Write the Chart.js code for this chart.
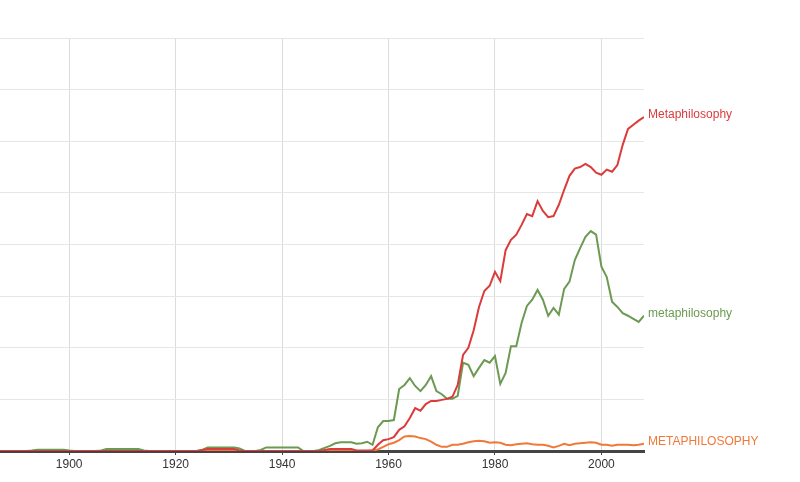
<!DOCTYPE html>
<html>
<head>
<meta charset="utf-8">
<title>metaphilosophy</title>
<script src="https://cdn.jsdelivr.net/npm/chart.js@4/dist/chart.umd.min.js"></script>
<style>
  html, body { margin: 0; padding: 0; background: #fff; }
  #wrap { width: 800px; height: 482px; position: relative; }
</style>
</head>
<body>
<div id="wrap"><canvas id="chart"></canvas></div>
<script>
// years on the x axis
const years = [
  1887, 1888, 1889, 1890, 1891, 1892, 1893, 1894, 1895, 1896,
  1897, 1898, 1899, 1900, 1901, 1902, 1903, 1904, 1905, 1906,
  1907, 1908, 1909, 1910, 1911, 1912, 1913, 1914, 1915, 1916,
  1917, 1918, 1919, 1920, 1921, 1922, 1923, 1924, 1925, 1926,
  1927, 1928, 1929, 1930, 1931, 1932, 1933, 1934, 1935, 1936,
  1937, 1938, 1939, 1940, 1941, 1942, 1943, 1944, 1945, 1946,
  1947, 1948, 1949, 1950, 1951, 1952, 1953, 1954, 1955, 1956,
  1957, 1958, 1959, 1960, 1961, 1962, 1963, 1964, 1965, 1966,
  1967, 1968, 1969, 1970, 1971, 1972, 1973, 1974, 1975, 1976,
  1977, 1978, 1979, 1980, 1981, 1982, 1983, 1984, 1985, 1986,
  1987, 1988, 1989, 1990, 1991, 1992, 1993, 1994, 1995, 1996,
  1997, 1998, 1999, 2000, 2001, 2002, 2003, 2004, 2005, 2006,
  2007, 2008
];
const tickYears = [1900, 1920, 1940, 1960, 1980, 2000];

// "Metaphilosophy"
const capitalised = [
  0, 0, 0, 0, 0, 0, 0, 0, 0, 0,
  0, 0, 0, 0, 0, 0, 0, 0, 0, 0,
  0, 0, 0, 0, 0, 0, 0, 0, 0, 0,
  0, 0, 0, 0, 0, 0, 0, 0, 0.02, 0.04,
  0.04, 0.04, 0.04, 0.04, 0.04, 0.01, 0, 0, 0, 0,
  0, 0, 0, 0, 0, 0, 0, 0, 0, 0,
  0, 0.02, 0.04, 0.04, 0.04, 0.04, 0.04, 0.01, 0.01, 0.01,
  0.01, 0.12, 0.21, 0.23, 0.27, 0.41, 0.48, 0.64, 0.83, 0.78,
  0.91, 0.97, 0.97, 0.99, 1.01, 1.05, 1.28, 1.86, 2.00, 2.34,
  2.79, 3.10, 3.20, 3.47, 3.29, 3.89, 4.09, 4.19, 4.38, 4.59,
  4.55, 4.84, 4.65, 4.53, 4.55, 4.77, 5.06, 5.33, 5.47, 5.50,
  5.56, 5.50, 5.39, 5.35, 5.45, 5.41, 5.54, 5.93, 6.24, 6.32,
  6.40, 6.47
];

// "metaphilosophy"
const lowercase = [
  0, 0, 0, 0, 0, 0, 0.01, 0.025, 0.025, 0.025,
  0.025, 0.025, 0.025, 0.01, 0, 0, 0, 0, 0, 0.01,
  0.04, 0.04, 0.04, 0.04, 0.04, 0.04, 0.04, 0.01, 0, 0,
  0, 0, 0, 0, 0, 0, 0, 0, 0.02, 0.07,
  0.07, 0.07, 0.07, 0.07, 0.07, 0.05, 0, 0, 0, 0.02,
  0.07, 0.07, 0.07, 0.07, 0.07, 0.07, 0.07, 0, 0, 0,
  0.02, 0.06, 0.10, 0.15, 0.17, 0.17, 0.17, 0.14, 0.15, 0.18,
  0.12, 0.46, 0.58, 0.58, 0.60, 1.20, 1.28, 1.41, 1.26, 1.16,
  1.28, 1.45, 1.16, 1.10, 1.01, 1.01, 1.07, 1.71, 1.67, 1.45,
  1.61, 1.76, 1.71, 1.84, 1.30, 1.51, 2.03, 2.03, 2.48, 2.81,
  2.93, 3.12, 2.93, 2.62, 2.77, 2.64, 3.14, 3.28, 3.70, 3.93,
  4.15, 4.26, 4.19, 3.57, 3.37, 2.89, 2.79, 2.67, 2.62, 2.56,
  2.50, 2.62
];

// "METAPHILOSOPHY"
const uppercase = [
  0, 0, 0, 0, 0, 0, 0, 0, 0, 0,
  0, 0, 0, 0, 0, 0, 0, 0, 0, 0,
  0, 0, 0, 0, 0, 0, 0, 0, 0, 0,
  0, 0, 0, 0, 0, 0, 0, 0, 0, 0,
  0, 0, 0, 0, 0, 0, 0, 0, 0, 0,
  0, 0, 0, 0, 0, 0, 0, 0, 0, 0,
  0, 0, 0, 0, 0, 0, 0, 0, 0, 0,
  0.01, 0.03, 0.08, 0.13, 0.16, 0.21, 0.28, 0.29, 0.28, 0.25,
  0.23, 0.18, 0.12, 0.08, 0.08, 0.12, 0.12, 0.14, 0.17, 0.19,
  0.20, 0.19, 0.16, 0.17, 0.16, 0.12, 0.11, 0.13, 0.14, 0.15,
  0.13, 0.12, 0.12, 0.10, 0.07, 0.10, 0.14, 0.11, 0.14, 0.15,
  0.16, 0.17, 0.16, 0.12, 0.12, 0.10, 0.12, 0.12, 0.12, 0.11,
  0.12, 0.14
];

const FONT = '"Liberation Sans", Arial, sans-serif';

// series name written at the right end of each line
const endLabels = {
  id: 'endLabels',
  afterDatasetsDraw(chart) {
    const ctx = chart.ctx;
    ctx.save();
    ctx.font = '12px ' + FONT;
    ctx.textBaseline = 'middle';
    ctx.textAlign = 'left';
    chart.data.datasets.forEach((ds, i) => {
      const pts = chart.getDatasetMeta(i).data;
      const last = pts[pts.length - 1];
      ctx.fillStyle = ds.borderColor;
      ctx.fillText(ds.label, chart.chartArea.right + 4, last.y - 2);
    });
    ctx.restore();
  },
};

new Chart(document.getElementById('chart'), {
  type: 'line',
  data: {
    labels: years,
    datasets: [
      { label: 'Metaphilosophy', data: capitalised, borderColor: '#db3b3b' },
      { label: 'metaphilosophy', data: lowercase, borderColor: '#6c9a53' },
      { label: 'METAPHILOSOPHY', data: uppercase, borderColor: '#f0793a' },
    ],
  },
  options: {
    responsive: true, maintainAspectRatio: false,
    animation: false,
    layout: { padding: { top: 38, right: 156, left: 0, bottom: 0 } },
    elements: {
      line: { borderWidth: 2, tension: 0 },
      point: { radius: 0, hoverRadius: 0 },
    },
    plugins: { legend: { display: false }, tooltip: { enabled: false } },
    scales: {
      x: {
        type: 'linear', min: 1887, max: 2008,
        afterBuildTicks: (s) => { s.ticks = tickYears.map(v => ({ value: v })); },
        afterFit: (s) => { s.height = 31; },
        grid: { color: '#dcdcdc', tickColor: '#444', tickLength: 4 },
        border: { color: '#444', width: 3 },
        ticks: { color: '#333', padding: 2, font: { family: FONT, size: 12 }, callback: v => String(v) },
      },
      y: {
        min: 0, max: 8,
        afterFit: (s) => { s.width = 0; },
        ticks: { display: false, stepSize: 1 },
        grid: { color: '#e6e6e6', tickLength: 0 },
        border: { display: false },
      },
    },
  },
  plugins: [endLabels],
});
</script>
</body>
</html>
